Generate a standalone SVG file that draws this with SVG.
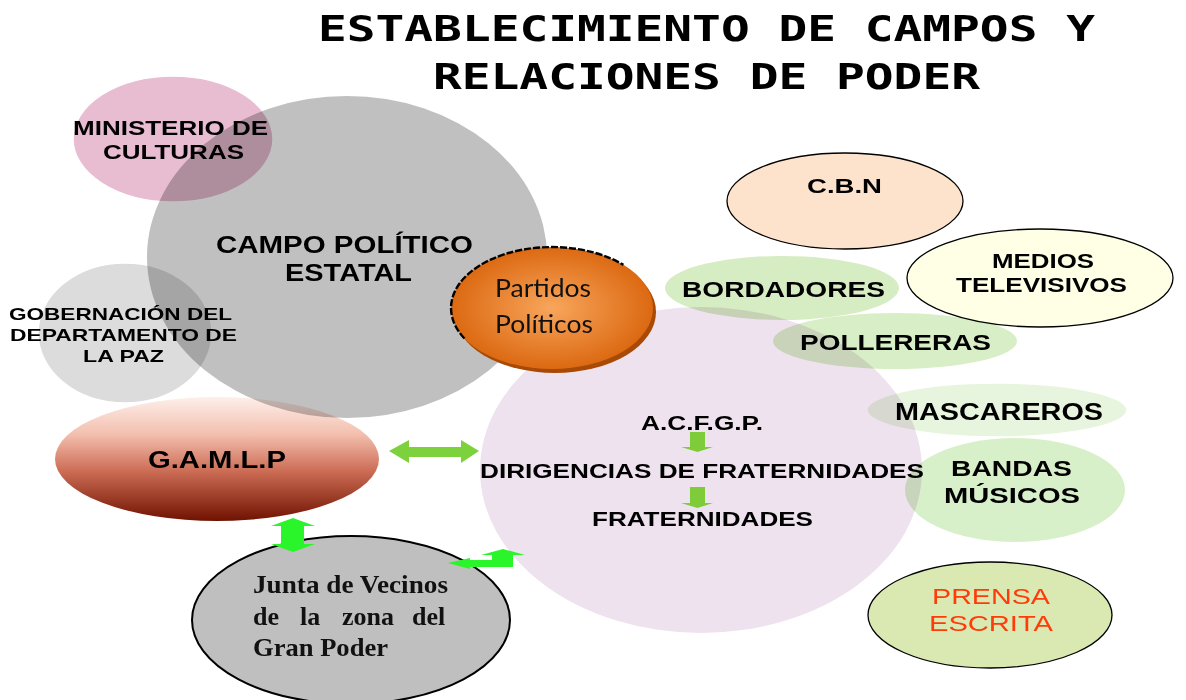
<svg xmlns="http://www.w3.org/2000/svg" width="1186" height="700" viewBox="0 0 1186 700">
<defs>
<linearGradient id="gGamlp" x1="0" y1="0" x2="0" y2="1">
<stop offset="0" stop-color="#fdefea"/>
<stop offset="0.3" stop-color="#f3bfae"/>
<stop offset="0.6" stop-color="#cc6c55"/>
<stop offset="1" stop-color="#701200"/>
</linearGradient>
<radialGradient id="gPart" cx="0.5" cy="0.5" r="0.5">
<stop offset="0" stop-color="#f8a65c"/>
<stop offset="1" stop-color="#dc6912"/>
</radialGradient>
<style>
.mul{mix-blend-mode:multiply}
.ws{stroke:#ffffff;stroke-width:1.5}
.bs{stroke:#000000;stroke-width:1.3}
.t{font-family:"Liberation Sans",Arial,sans-serif;font-weight:bold;fill:#000;text-anchor:middle}
.title{font-family:"DejaVu Sans Mono","Liberation Mono",monospace;font-weight:bold;font-size:35px;fill:#000;text-anchor:middle}
.tr{font-family:"Liberation Serif","Times New Roman",serif;font-weight:bold;font-size:26px;fill:#111}
.cal{font-family:Lato,"Open Sans",sans-serif;font-size:25px;fill:#111}
</style>
</defs>
<rect width="1186" height="700" fill="#ffffff"/>

<g id="title">
<text class="title" x="706.5" y="41" textLength="777" lengthAdjust="spacingAndGlyphs">ESTABLECIMIENTO DE CAMPOS Y</text>
<text class="title" x="706.5" y="89" textLength="547" lengthAdjust="spacingAndGlyphs">RELACIONES DE PODER</text>
</g>

<g id="campo-politico">
<ellipse cx="347" cy="257" rx="200" ry="161" fill="#c0c0c0"/>
<text class="t" font-size="23" x="344.5" y="253" textLength="257" lengthAdjust="spacingAndGlyphs">CAMPO POLÍTICO</text>
<text class="t" font-size="23" x="348.5" y="281" textLength="127" lengthAdjust="spacingAndGlyphs">ESTATAL</text>
</g>

<g id="ministerio">
<ellipse class="mul ws" cx="173" cy="139" rx="100" ry="63" fill="#e8bcd1"/>
<text class="t" font-size="20" x="170.5" y="135" textLength="195" lengthAdjust="spacingAndGlyphs">MINISTERIO DE</text>
<text class="t" font-size="20" x="173.5" y="159" textLength="141" lengthAdjust="spacingAndGlyphs">CULTURAS</text>
</g>

<g id="gobernacion">
<ellipse class="mul ws" cx="125" cy="333" rx="87" ry="70" fill="#dcdcdc"/>
<text class="t" font-size="17" x="120.5" y="320" textLength="223" lengthAdjust="spacingAndGlyphs">GOBERNACIÓN DEL</text>
<text class="t" font-size="17" x="123.5" y="341" textLength="227" lengthAdjust="spacingAndGlyphs">DEPARTAMENTO DE</text>
<text class="t" font-size="17" x="123.5" y="362" textLength="81" lengthAdjust="spacingAndGlyphs">LA PAZ</text>
</g>

<g id="gamlp">
<ellipse class="mul" cx="217" cy="459" rx="162" ry="62" fill="url(#gGamlp)"/>
<text class="t" font-size="23" x="217" y="468" textLength="138" lengthAdjust="spacingAndGlyphs">G.A.M.L.P</text>
</g>

<g id="acfgp">
<ellipse class="mul" cx="701" cy="470" rx="221" ry="163" fill="#eee2ef"/>
<text class="t" font-size="20" x="702" y="430" textLength="122" lengthAdjust="spacingAndGlyphs">A.C.F.G.P.</text>
<text class="t" font-size="20" x="702" y="478" textLength="444" lengthAdjust="spacingAndGlyphs">DIRIGENCIAS DE FRATERNIDADES</text>
<text class="t" font-size="20" x="702.5" y="526" textLength="221" lengthAdjust="spacingAndGlyphs">FRATERNIDADES</text>
</g>

<g id="partidos">
<ellipse cx="555" cy="312" rx="101" ry="61" fill="#a84a06"/>
<ellipse cx="552" cy="308" rx="101" ry="61" fill="url(#gPart)"/>
<path d="M464.5,338.5 A101,61 0 0 1 623.4,264.9" fill="none" stroke="#000" stroke-width="2.4" stroke-dasharray="7 2"/>
<text class="cal" x="495" y="297" textLength="96" lengthAdjust="spacingAndGlyphs">Partidos</text>
<text class="cal" x="495" y="333" textLength="98" lengthAdjust="spacingAndGlyphs">Políticos</text>
</g>

<g id="cbn">
<ellipse class="bs" cx="845" cy="201" rx="118" ry="48" fill="#fde3cc"/>
<text class="t" font-size="20" x="844.5" y="193" textLength="75" lengthAdjust="spacingAndGlyphs">C.B.N</text>
</g>

<g id="medios">
<ellipse class="bs" cx="1040" cy="278" rx="133" ry="49" fill="#ffffe6"/>
<text class="t" font-size="20" x="1043" y="268" textLength="102" lengthAdjust="spacingAndGlyphs">MEDIOS</text>
<text class="t" font-size="20" x="1041.5" y="292" textLength="171" lengthAdjust="spacingAndGlyphs">TELEVISIVOS</text>
</g>

<g id="bordadores">
<ellipse class="mul" cx="782" cy="288" rx="117" ry="32" fill="#d6ecc2"/>
<text class="t" font-size="22" x="783.5" y="297" textLength="203" lengthAdjust="spacingAndGlyphs">BORDADORES</text>
</g>

<g id="pollereras">
<ellipse class="mul" cx="895" cy="341" rx="122" ry="28" fill="#d8eec6"/>
<text class="t" font-size="22" x="895.5" y="350" textLength="191" lengthAdjust="spacingAndGlyphs">POLLERERAS</text>
</g>

<g id="mascareros">
<ellipse class="mul ws" cx="997" cy="410" rx="130" ry="27" fill="#e7f4de"/>
<text class="t" font-size="23" x="999" y="420" textLength="208" lengthAdjust="spacingAndGlyphs">MASCAREROS</text>
</g>

<g id="bandas">
<ellipse class="mul" cx="1015" cy="490" rx="110" ry="52" fill="#d8f0ca"/>
<text class="t" font-size="22" x="1011.5" y="476" textLength="121" lengthAdjust="spacingAndGlyphs">BANDAS</text>
<text class="t" font-size="22" x="1012" y="503" textLength="136" lengthAdjust="spacingAndGlyphs">MÚSICOS</text>
</g>

<g id="prensa">
<ellipse class="bs" cx="990" cy="615" rx="122" ry="53" fill="#d9e9b1"/>
<text x="991" y="604" font-family="'Liberation Sans',Arial,sans-serif" font-size="22" fill="#ff3b0a" text-anchor="middle" textLength="118" lengthAdjust="spacingAndGlyphs">PRENSA</text>
<text x="991" y="631" font-family="'Liberation Sans',Arial,sans-serif" font-size="22" fill="#ff3b0a" text-anchor="middle" textLength="124" lengthAdjust="spacingAndGlyphs">ESCRITA</text>
</g>

<g id="junta">
<ellipse cx="351" cy="620" rx="159" ry="84" fill="#bfbfbf" stroke="#000" stroke-width="2"/>
<text class="tr" x="253" y="593" textLength="195" lengthAdjust="spacingAndGlyphs">Junta de Vecinos</text>
<text class="tr" y="625"><tspan x="253">de</tspan><tspan x="300">la</tspan><tspan x="342">zona</tspan><tspan x="412">del</tspan></text>
<text class="tr" x="253" y="656" textLength="135" lengthAdjust="spacingAndGlyphs">Gran Poder</text>
</g>

<g id="connectors">
<polygon points="389,451 409,440 409,447 461,447 461,440 479,451 461,463 461,457 409,457 409,463" fill="#7dd13d"/>
<polygon points="293,518 315,526 304,526 304,544 315,544 293,552 271,544 281,544 281,526 271,526" fill="#2af52a"/>
<polygon points="448,563 470,558 470,560 492,560 492,555 481,555 503,549 525,555 513,555 513,567 470,567 470,569" fill="#2af52a"/>
<polygon points="690,432 705,432 705,447 713,447 697.5,452 681,447 690,447" fill="#7fcc3a"/>
<polygon points="690,487 705,487 705,503 713,503 697.5,508 681,503 690,503" fill="#7fcc3a"/>
</g>
</svg>
